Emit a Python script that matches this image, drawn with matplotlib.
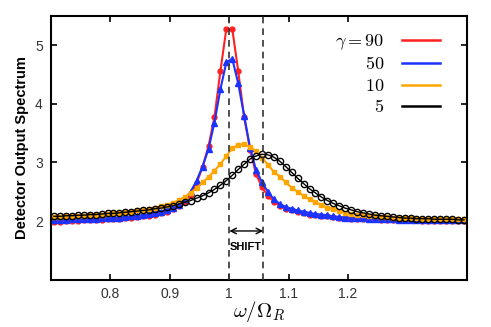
import numpy as np
import matplotlib.pyplot as plt

plt.rcParams['mathtext.fontset'] = 'cm'
plt.rcParams['font.family'] = ['Liberation Sans', 'DejaVu Sans']

# frequency grid omega / Omega_R (markers every 0.01)
w = np.round(np.arange(0.705, 1.40, 0.01), 3)

spec_g90 = [1.99, 1.99, 2.00, 2.00, 2.00, 2.01, 2.01, 2.02, 2.02, 2.03,
            2.03, 2.04, 2.05, 2.06, 2.07, 2.08, 2.09, 2.11, 2.13, 2.16,
            2.20, 2.25, 2.33, 2.45, 2.65, 2.92, 3.28, 3.77, 4.56, 5.28,
            5.28, 4.56, 3.77, 3.22, 2.80, 2.58, 2.43, 2.33, 2.26, 2.21,
            2.18, 2.15, 2.13, 2.11, 2.10, 2.09, 2.08, 2.07, 2.06, 2.05,
            2.04, 2.04, 2.03, 2.03, 2.03, 2.02, 2.02, 2.02, 2.01, 2.01,
            2.01, 2.01, 2.00, 2.00, 2.00, 2.00, 2.00, 2.00, 2.00, 2.00]
spec_g50 = [2.02, 2.02, 2.02, 2.03, 2.03, 2.03, 2.04, 2.04, 2.05, 2.05,
            2.06, 2.06, 2.07, 2.08, 2.09, 2.10, 2.12, 2.14, 2.16, 2.19,
            2.23, 2.28, 2.37, 2.50, 2.69, 2.93, 3.23, 3.68, 4.25, 4.71,
            4.77, 4.35, 3.80, 3.25, 2.87, 2.66, 2.50, 2.37, 2.29, 2.24,
            2.21, 2.18, 2.16, 2.14, 2.12, 2.11, 2.10, 2.08, 2.07, 2.06,
            2.06, 2.05, 2.05, 2.04, 2.04, 2.03, 2.03, 2.03, 2.02, 2.02,
            2.02, 2.02, 2.01, 2.01, 2.01, 2.01, 2.01, 2.01, 2.01, 2.01]
spec_g10 = [2.07, 2.07, 2.08, 2.08, 2.09, 2.09, 2.10, 2.11, 2.11, 2.12,
            2.13, 2.14, 2.15, 2.16, 2.18, 2.19, 2.21, 2.23, 2.25, 2.28,
            2.31, 2.36, 2.41, 2.48, 2.56, 2.66, 2.75, 2.86, 2.97, 3.11,
            3.24, 3.30, 3.31, 3.27, 3.19, 3.08, 2.96, 2.84, 2.76, 2.66,
            2.57, 2.50, 2.43, 2.37, 2.32, 2.28, 2.23, 2.20, 2.17, 2.14,
            2.12, 2.11, 2.10, 2.09, 2.08, 2.07, 2.07, 2.06, 2.06, 2.05,
            2.05, 2.05, 2.04, 2.04, 2.04, 2.04, 2.03, 2.03, 2.03, 2.03]
spec_g5 = [2.08, 2.08, 2.09, 2.09, 2.10, 2.10, 2.11, 2.11, 2.12, 2.13,
           2.13, 2.14, 2.15, 2.16, 2.17, 2.18, 2.19, 2.21, 2.22, 2.24,
           2.26, 2.29, 2.32, 2.35, 2.39, 2.43, 2.48, 2.54, 2.61, 2.69,
           2.78, 2.88, 2.97, 3.06, 3.11, 3.14, 3.13, 3.09, 3.02, 2.93,
           2.83, 2.73, 2.64, 2.55, 2.48, 2.41, 2.35, 2.30, 2.26, 2.22,
           2.19, 2.16, 2.14, 2.12, 2.10, 2.09, 2.08, 2.07, 2.06, 2.05,
           2.05, 2.04, 2.04, 2.04, 2.03, 2.03, 2.03, 2.03, 2.02, 2.02]

labels = [r'$\gamma = 90$', r'$50$', r'$10$', r'$5$']
xticks = [0.8, 0.9, 1.0, 1.1, 1.2]
xtick_labels = ['0.8', '0.9', '1', '1.1', '1.2']
yticks = [2, 3, 4, 5]
peak_res, peak_shift = 1.0, 1.057

fig = plt.figure(figsize=(4.91, 3.27), dpi=100)
ax = fig.add_axes([0.104, 0.145, 0.847, 0.806])

ax.plot(w, spec_g90, '-o', color='#ff2020', lw=1.5, ms=3.5, label=labels[0])
ax.plot(w, spec_g50, '-^', color='#1a33ff', lw=1.5, ms=4.5, label=labels[1])
ax.plot(w, spec_g10, '-s', color='#ffa500', lw=1.5, ms=3.5, label=labels[2])
ax.plot(w, spec_g5, '-o', color='black', lw=1.0, ms=4.5, mfc='none',
        mew=1.0, label=labels[3])

for xv in (peak_res, peak_shift):
    ax.axvline(xv, color='#333333', ls=(0, (4, 3)), lw=1.2, zorder=5)

ax.annotate('', xy=(peak_res, 1.83), xytext=(peak_shift, 1.83),
            arrowprops=dict(arrowstyle='<->', color='black', lw=1.0,
                            shrinkA=0, shrinkB=0))
ax.text((peak_res + peak_shift) / 2, 1.56, 'SHIFT', ha='center', va='center',
        fontsize=8, fontweight='bold')

ax.set_xlim(0.7, 1.4)
ax.set_ylim(1, 5.5)
ax.set_xticks(xticks)
ax.set_xticklabels(xtick_labels)
ax.set_yticks(yticks)
ax.tick_params(direction='in', top=True, right=True, length=4, width=1.2,
               labelsize=10, labelcolor='#333333', pad=6)
ax.tick_params(axis='x', pad=5)
for s in ax.spines.values():
    s.set_linewidth(1.5)

ax.set_xlabel(r'$\omega/\Omega_R$', fontsize=15, labelpad=-1)
ax.set_ylabel('Detector Output Spectrum', fontsize=10.5, fontweight='bold')

handles, lbls = ax.get_legend_handles_labels()
leg_lines = [plt.Line2D([], [], color=h.get_color(), lw=1.8) for h in handles]
ax.legend(leg_lines, lbls, loc='upper right', frameon=False, markerfirst=False,
          fontsize=13, handlelength=2.1, handletextpad=1.0, labelspacing=0.25,
          bbox_to_anchor=(0.975, 1.0))

fig.savefig('out.png', dpi=100)
